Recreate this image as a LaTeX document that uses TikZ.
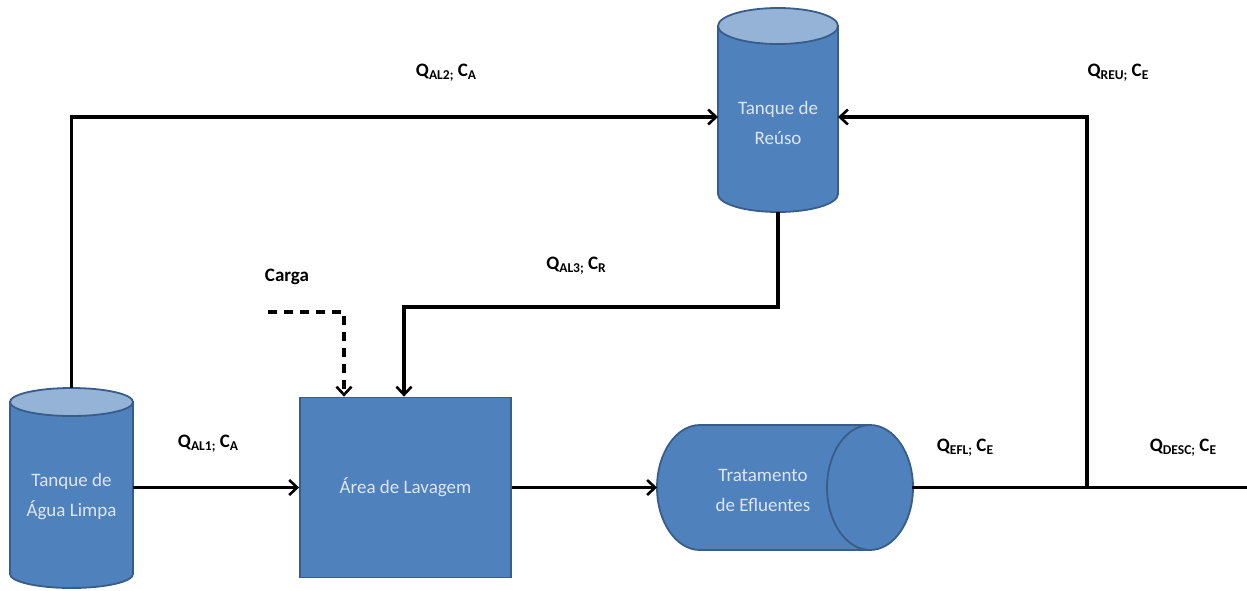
\documentclass[tikz,border=0pt]{standalone}
\usepackage{fontspec}
\setmainfont{Carlito}
\usetikzlibrary{arrows.meta}
\definecolor{fillblue}{RGB}{79,129,189}
\definecolor{edgeblue}{RGB}{56,93,138}
\definecolor{topblue}{RGB}{149,179,215}
\definecolor{txtblue}{RGB}{220,230,242}
\newcommand\sbs[1]{\raisebox{-0.3ex}{\fontsize{13.5}{14}\selectfont #1}}
\tikzset{
 shapebody/.style={fill=fillblue, draw=edgeblue, line width=1.8pt},
 capfill/.style={fill=topblue, draw=edgeblue, line width=1.8pt},
 intext/.style={text=txtblue, font=\fontsize{19}{30}\selectfont, align=center},
 lbl/.style={font=\fontsize{19}{20}\selectfont\bfseries, inner sep=0pt},
 flow/.style={line width=3.2pt, -{Straight Barb[length=8pt,width=15pt,line width=2.6pt]}},
 plainflow/.style={line width=3.2pt},
 dashflow/.style={flow, dash pattern=on 9pt off 7pt},
 frame/.style={inner sep=0pt, outer sep=0pt, draw=none}
}
\begin{document}
\begin{tikzpicture}[x=1pt,y=1pt]
\useasboundingbox (0,0) rectangle (1247,-590);

% Tanque de Agua Limpa
\path[shapebody] (10,-402) -- (10,-574) arc[start angle=180,end angle=360,x radius=61.5,y radius=14] -- (133,-402) -- cycle;
\path[capfill] (71.5,-402) ellipse[x radius=61.5, y radius=14];
\node[frame, minimum width=123pt, minimum height=200pt] (limpa) at (71.5,-488) {};
\node[intext] (limpaT) at (71.5,-497) {Tanque de\\Água Limpa};

% Tanque de Reuso
\path[shapebody] (718,-26) -- (718,-194) arc[start angle=180,end angle=360,x radius=60,y radius=18] -- (838,-26) -- cycle;
\path[capfill] (778,-26) ellipse[x radius=60, y radius=18];
\node[frame, minimum width=120pt, minimum height=204pt] (reuso) at (778,-110) {};
\node[intext] (reusoT) at (778,-123) {Tanque de\\Reúso};

% Area de Lavagem
\node[shapebody, intext, minimum width=211pt, minimum height=180pt] (lav) at (405.5,-487.5) {Área de Lavagem};

% Tratamento de Efluentes
\path[shapebody] (700,-425) arc[start angle=90,end angle=270,x radius=43,y radius=62.5] -- (870,-550) -- (870,-425) -- cycle;
\path[shapebody] (870,-487.5) ellipse[x radius=43, y radius=62.5];
\node[frame, minimum width=255pt, minimum height=125pt] (trat) at (784.5,-487.5) {};
\node[intext] (tratT) at (763,-490) {Tratamento\\de Efluentes};

% connectors
\draw[flow] (limpa.north) |- ([yshift=-7pt]reuso.west);
\draw[flow] (reuso.south) -- ++(0,-95) -| ([xshift=-1.5pt]lav.north);
\node[lbl] (carga) at (287,-277) {Carga};
\coordinate (cargaS) at (268,-312);
\draw[dashflow] (cargaS) -| ([xshift=-61.5pt]lav.north);
\draw[flow] (limpa.east |- lav.west) -- (lav.west);
\draw[flow] (lav.east) -- (lav.east -| trat.west);
\coordinate (outE) at (1247,-487.5);
\draw[plainflow] (trat.east) -- (outE);
\coordinate (split) at (1087,-487.5);
\draw[flow] (split) |- ([yshift=-7pt]reuso.east);

% labels
\node[lbl] (q1) at (208,-444) {Q\sbs{AL1;} C\sbs{A}};
\node[lbl] (q2) at (446,-73) {Q\sbs{AL2;} C\sbs{A}};
\node[lbl] (q3) at (576,-266) {Q\sbs{AL3;} C\sbs{R}};
\node[lbl] (q4) at (1118,-73) {Q\sbs{REU;} C\sbs{E}};
\node[lbl] (q5) at (965,-448) {Q\sbs{EFL;} C\sbs{E}};
\node[lbl] (q6) at (1183,-448) {Q\sbs{DESC;} C\sbs{E}};
\end{tikzpicture}
\end{document}
